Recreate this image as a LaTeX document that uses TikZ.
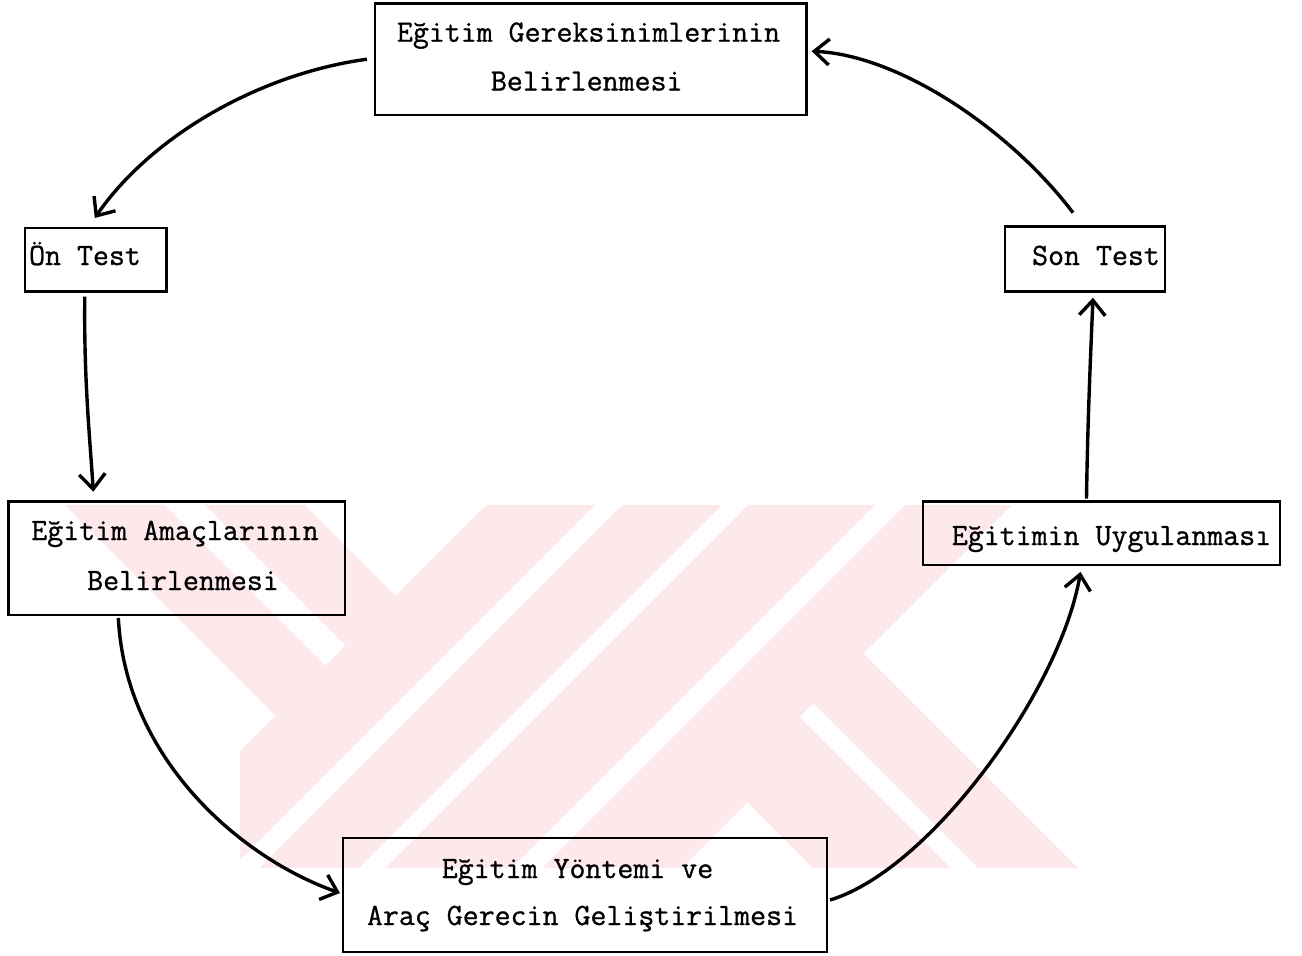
\documentclass[tikz,border=0pt]{standalone}
\usepackage{fontspec}
\newfontfamily\twfont{Latin Modern Mono}[FakeBold=0.9]
\usetikzlibrary{arrows.meta,calc}
\definecolor{wm}{RGB}{253,232,236}
\begin{document}
\begin{tikzpicture}[x=1pt,y=-1pt,
  box/.style={draw=black,line width=2.5pt,inner sep=0pt,outer sep=0pt},
  lbl/.style={font=\fontsize{31}{40}\selectfont\twfont,inner sep=0pt,anchor=base},
  conn/.style={line width=3.4pt,-{Straight Barb[length=15pt,width=26pt,line width=3.4pt]}},
  wmark/.style={fill=wm,draw=none},
  wgap/.style={fill=white,draw=none}]
\useasboundingbox (0,0) rectangle (1302,956);
% watermark
\fill[wmark] (65,505) -- (1012,505) -- (863.5,653.5) -- (1078,868) -- (240,868) -- (240,751) -- (275.5,715.5) -- cycle;
\fill[wgap] (305,505) -- (486,505) -- (395.5,595.5) -- cycle;
\fill[wgap] (165,505) -- (205,505) -- (345.5,645.5) -- (325.5,665.5) -- cycle;
\fill[wgap] (595,505) -- (622,505) -- (259,868) -- (232,868) -- cycle;
\fill[wgap] (722,505) -- (748,505) -- (385,868) -- (359,868) -- cycle;
\fill[wgap] (875,505) -- (905,505) -- (542,868) -- (512,868) -- cycle;
\fill[wgap] (747.5,802.5) -- (813,868) -- (682,868) -- cycle;
\fill[wgap] (800,717) -- (813.5,703.5) -- (978,868) -- (951,868) -- cycle;
% boxes
\node[box,minimum width=431.7pt,minimum height=111.7pt] (need) at (590.8,59.2) {};
\node[box,minimum width=141.7pt,minimum height=63.7pt] (ontest) at (95.8,259.8) {};
\node[box,minimum width=160pt,minimum height=65pt] (sontest) at (1085,259.2) {};
\node[box,minimum width=336.7pt,minimum height=113.3pt] (amac) at (176.7,558.3) {};
\node[box,minimum width=357pt,minimum height=63.3pt] (uyg) at (1101.5,533.3) {};
\node[box,minimum width=484pt,minimum height=114pt] (yontem) at (585,895) {};
% texts
\node[lbl] (need1) at (588.5,41.7) {Eğitim Gereksinimlerinin};
\node[lbl] (need2) at (586.7,90.5) {Belirlenmesi};
\node[lbl] (ontestt) at (85,265) {Ön Test};
\node[lbl] (sontestt) at (1096,265) {Son Test};
\node[lbl] (amac1) at (175,540) {Eğitim Amaçlarının};
\node[lbl] (amac2) at (183,590) {Belirlenmesi};
\node[lbl] (uygt) at (1111.5,545) {Eğitimin Uygulanması};
\node[lbl] (yon1) at (577.5,878) {Eğitim Yöntemi ve};
\node[lbl] (yon2) at (582.5,925) {Araç Gerecin Geliştirilmesi};
% connectors
\draw[conn] ($(need.west)+(-8,0)$) .. controls +(-110,15) and +(55,-80) .. ($(ontest.north)+(-1,-10)$);
\draw[conn] ($(ontest.south)+(-11,5)$) .. controls +(-1,80) and +(-4,-60) .. ($(amac.north west)+(85,-10)$);
\draw[conn] ($(amac.south west)+(110,3)$) .. controls +(7,140) and +(-100,-35) .. ($(yontem.west)+(-3,-2)$);
\draw[conn] ($(yontem.east)+(3,5)$) .. controls +(100,-30) and +(-20,118) .. ($(uyg.south)+(-21,7)$);
\draw[conn] ($(uyg.north)+(-15,-3)$) .. controls +(1,-70) and +(-3,70) .. ($(sontest.south)+(8,6)$);
\draw[conn] ($(sontest.north)+(-12,-14)$) .. controls +(-63,-83) and +(88,4) .. ($(need.east)+(5,-8)$);
\end{tikzpicture}
\end{document}
